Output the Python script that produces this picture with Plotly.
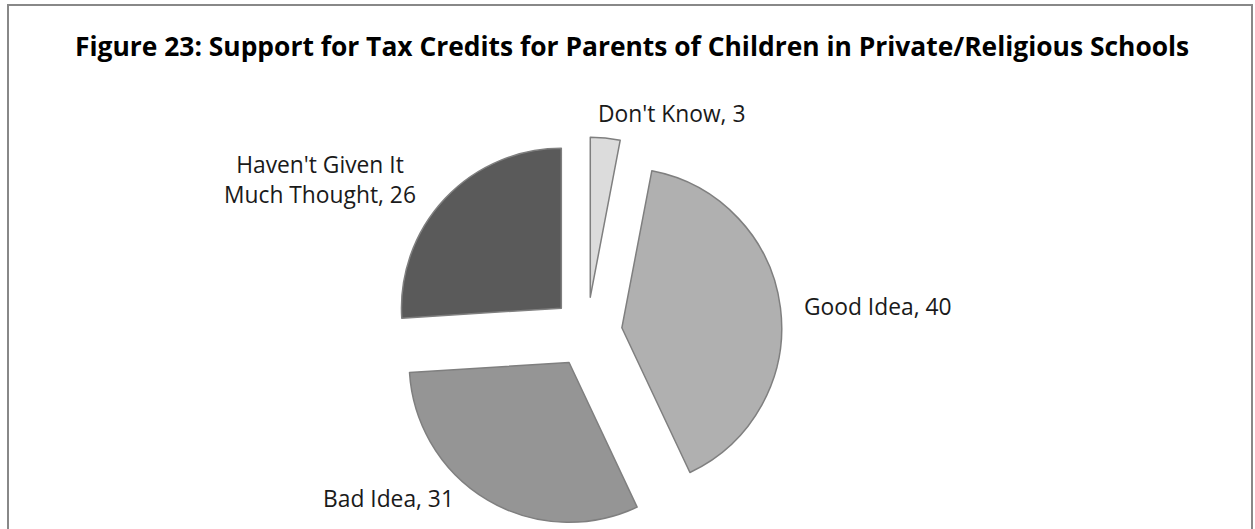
import plotly.graph_objects as go

labels = ["Don't Know", "Good Idea", "Bad Idea", "Haven't Given It Much Thought"]
values = [3, 40, 31, 26]
colors = ["#dcdcdc", "#b0b0b0", "#959595", "#5a5a5a"]
label_texts = ["Don't Know, 3", "Good Idea, 40", "Bad Idea, 31", "Haven't Given It<br>Much Thought, 26"]
title = "Figure 23: Support for Tax Credits for Parents of Children in Private/Religious Schools"

W, H = 1255, 529

fig = go.Figure(go.Pie(
    labels=labels, values=values, sort=False, direction="clockwise", rotation=0,
    marker=dict(colors=colors, line=dict(color="#7f7f7f", width=1.5)),
    pull=[0.22, 0.22, 0.22, 0.22],
    textinfo="none", hoverinfo="label+value", showlegend=False,
    domain=dict(x=[0.3123, 0.6231], y=[0.003, 0.741]),
))

label_pos = [(671, 113), (878, 306), (388, 498), (320, 180)]
for t, (x, y) in zip(label_texts, label_pos):
    fig.add_annotation(text=t, x=x / W, y=1 - y / H, xref="paper", yref="paper",
                       xanchor="center", yanchor="middle",
                       showarrow=False, align="center",
                       font=dict(family="Open Sans", size=22.8, color="#1a1a1a"))

fig.add_annotation(text="<b>" + title + "</b>", x=632 / W, y=1 - 46 / H, xref="paper", yref="paper",
                   xanchor="center", yanchor="middle",
                   showarrow=False, font=dict(family="Open Sans", size=26.4, color="#000000"))

fig.add_shape(type="rect", xref="paper", yref="paper", x0=8 / W, x1=1252 / W, y0=-0.05, y1=1 - 5 / H,
              line=dict(color="#888888", width=2))

fig.update_layout(width=W, height=H, margin=dict(l=0, r=0, t=0, b=0),
                  paper_bgcolor="white", plot_bgcolor="white")
fig.write_html("out.html", config={"displayModeBar": False})
with open("out.html", encoding="utf-8") as f:
    html = f.read()
html = html.replace("<head>", "<head><style>html,body{margin:0;padding:0;overflow:hidden}</style>", 1)
with open("out.html", "w", encoding="utf-8") as f:
    f.write(html)
